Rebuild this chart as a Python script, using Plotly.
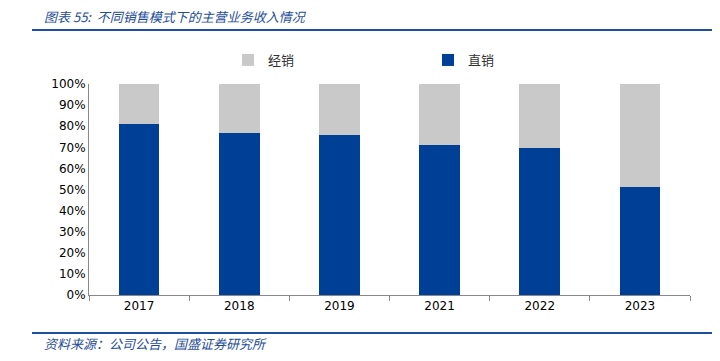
import plotly.graph_objects as go

years = ["2017", "2018", "2019", "2021", "2022", "2023"]
direct = [0.809, 0.766, 0.760, 0.712, 0.697, 0.512]
dealer = [round(1 - v, 3) for v in direct]

BLUE = "#003F96"
GRAY = "#C9C9C9"
TXT = "#1F4E9A"
OFF = 8  # page body margin offset

fig = go.Figure()
fig.add_trace(go.Bar(x=years, y=direct, name="直销", legend="legend2",
                     marker=dict(color=BLUE, line=dict(width=0))))
fig.add_trace(go.Bar(x=years, y=dealer, name="经销", legend="legend",
                     marker=dict(color=GRAY, line=dict(width=0))))

leg_common = dict(orientation="h", yref="container", xref="container", yanchor="middle",
                  y=1 - (60 - OFF) / 361, xanchor="left", bgcolor="rgba(0,0,0,0)",
                  font=dict(family="Noto Sans CJK SC", size=13, color="#333333"),
                  itemwidth=30)

fig.update_layout(
    width=720, height=361,
    barmode="stack", bargap=0.594,
    plot_bgcolor="white", paper_bgcolor="white",
    margin=dict(l=89 - OFF, r=30 + OFF, t=84 - OFF, b=66 + OFF, autoexpand=False),
    font=dict(family="DejaVu Sans", size=12, color="black"),
    legend=dict(leg_common, x=(228 - OFF) / 720),
    legend2=dict(leg_common, x=(428 - OFF) / 720),
    showlegend=True,
)
fig.update_yaxes(range=[0, 1], dtick=0.1, tickformat=".0%", showgrid=False,
                 showline=True, linecolor="#888888", linewidth=1, ticks="", zeroline=False,
                 tickfont=dict(size=12))
fig.update_xaxes(showline=True, linecolor="#888888", linewidth=1, ticks="outside",
                 tickson="boundaries", ticklen=5, tickcolor="#888888", showgrid=False,
                 tickfont=dict(size=12))

fig.add_shape(type="line", xref="paper", yref="paper", x0=-57/601, x1=700/601,
              y0=1 + (84 - 30) / 211, y1=1 + (84 - 30) / 211, line=dict(color=TXT, width=2))
fig.add_shape(type="line", xref="paper", yref="paper", x0=-57/601, x1=700/601,
              y0=-(333 - 295) / 211, y1=-(333 - 295) / 211, line=dict(color=TXT, width=2))
fig.add_annotation(text="<i>图表 55:  不同销售模式下的主营业务收入情况</i>", xref="paper", yref="paper",
                   x=-47/601, y=1 + (84 - 16) / 211, xanchor="left", yanchor="middle",
                   showarrow=False, font=dict(family="Noto Sans CJK SC", size=13, color=TXT))
fig.add_annotation(text="<i>资料来源：公司公告，国盛证券研究所</i>", xref="paper", yref="paper",
                   x=-47/601, y=-(343 - 295) / 211, xanchor="left", yanchor="middle",
                   showarrow=False, font=dict(family="Noto Sans CJK SC", size=13, color=TXT))

fig.write_html("out.html")
